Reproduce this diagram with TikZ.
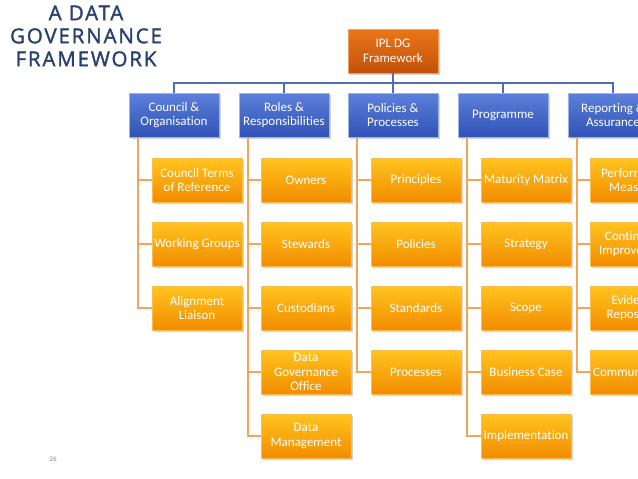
\documentclass[tikz,border=0pt]{standalone}
\usepackage{fontspec}
\setmainfont[Ligatures={NoCommon}]{Carlito}
\newfontfamily\titlefont[LetterSpace=9, FakeBold=1.6]{Open Sans}
\usetikzlibrary{shadows}

\definecolor{titleblue}{RGB}{40,65,110}
\definecolor{buslink}{RGB}{79,110,180}
\definecolor{branchlink}{RGB}{240,165,90}
\definecolor{itemtop}{RGB}{255,196,30}
\definecolor{itembot}{RGB}{242,140,0}
\definecolor{itemedge}{RGB}{250,190,80}
\definecolor{cattop}{RGB}{92,128,218}
\definecolor{catbot}{RGB}{48,82,182}
\definecolor{rootop}{RGB}{235,118,25}
\definecolor{rootbot}{RGB}{192,82,10}

\begin{document}
\begin{tikzpicture}[x=1pt, y=-1pt,
	box/.style={rectangle, minimum width=90pt, minimum height=44pt, inner sep=1pt, align=center,
		text=white, font=\fontsize{13}{14.5}\selectfont,
		drop shadow={shadow xshift=1.5pt, shadow yshift=-1.5pt, opacity=0.35}},
	rootbox/.style={box, top color=rootop, bottom color=rootbot, draw=rootop!70!white, thin},
	catbox/.style={box, top color=cattop, bottom color=catbot, draw=cattop!60!white, thin},
	itembox/.style={box, top color=itemtop, bottom color=itembot, draw=itemedge, thin},
	bus/.style={draw=buslink, line width=2.6pt},
	branch/.style={draw=branchlink, line width=2.6pt}]

	\useasboundingbox (0,0) rectangle (638,479);
	\fill[white] (0,0) rectangle (638,479);
	\clip (0,0) rectangle (638,479);

	% title
	\node[text=titleblue, font=\titlefont\fontsize{20.5}{23}\selectfont, align=center] (title) at (86,36)
		{A DATA\\GOVERNANCE\\FRAMEWORK};
	\node[text=titleblue!60, font=\fontsize{7}{8}\selectfont] (page) at (53,459) {26};

	% top and categories
	\node[rootbox] (root) at (393,51) {IPL DG\\Framework};
	\node[catbox] (council) at (174,115) {Council \&\\Organisation};
	\node[catbox] (roles) at (284,115) {Roles \&\\Responsibilities};
	\node[catbox] (policies) at (393,115) {Policies \&\\Processes};
	\node[catbox] (programme) at (503,115) {Programme};
	\node[catbox] (reporting) at (613,115) {Reporting \&\\Assurance};

	\coordinate (bus) at (393,83);
	\draw[bus] (root) -- (bus);
	\draw[bus] (council.north) |- (bus) -| (reporting.north);
	\foreach \n in {roles, policies, programme}
		\draw[bus] (bus -| \n.north) -- (\n.north);

	% items
	\node[itembox] (c1) at (197,180) {Council Terms\\of Reference};
	\node[itembox] (c2) at (197,244) {Working Groups};
	\node[itembox] (c3) at (197,308) {Alignment\\Liaison};

	\node[itembox] (r1) at (306,180) {Owners};
	\node[itembox] (r2) at (306,244) {Stewards};
	\node[itembox] (r3) at (306,308) {Custodians};
	\node[itembox] (r4) at (306,372) {Data\\Governance\\Office};
	\node[itembox] (r5) at (306,436) {Data\\Management};

	\node[itembox] (p1) at (416,180) {Principles};
	\node[itembox] (p2) at (416,244) {Policies};
	\node[itembox] (p3) at (416,308) {Standards};
	\node[itembox] (p4) at (416,372) {Processes};

	\node[itembox] (g1) at (526,180) {Maturity Matrix};
	\node[itembox] (g2) at (526,244) {Strategy};
	\node[itembox] (g3) at (526,308) {Scope};
	\node[itembox] (g4) at (526,372) {Business Case};
	\node[itembox] (g5) at (526,436) {Implementation};

	\node[itembox] (a1) at (635,180) {Performance\\Measures};
	\node[itembox] (a2) at (635,244) {Continuous\\Improvement};
	\node[itembox] (a3) at (635,308) {Evidence\\Repository};
	\node[itembox] (a4) at (635,372) {Communication};

	% branches
	\foreach \i in {1,2,3}
		\draw[branch] ([xshift=9pt]council.south west) |- (c\i.west);
	\foreach \i in {1,...,5}
		\draw[branch] ([xshift=9pt]roles.south west) |- (r\i.west);
	\foreach \i in {1,...,4}
		\draw[branch] ([xshift=9pt]policies.south west) |- (p\i.west);
	\foreach \i in {1,...,5}
		\draw[branch] ([xshift=9pt]programme.south west) |- (g\i.west);
	\foreach \i in {1,...,4}
		\draw[branch] ([xshift=9pt]reporting.south west) |- (a\i.west);
\end{tikzpicture}
\end{document}
